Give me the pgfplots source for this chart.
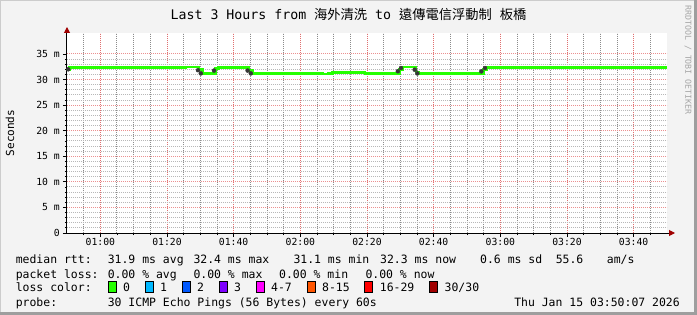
\documentclass[border=0pt]{standalone}
\usepackage{pgfplots}
\usepackage{pgfplotstable}
\pgfplotsset{compat=1.18}
\usepackage{fontspec}
\setmainfont{DejaVu Sans Mono}
\newfontfamily\cjk{Noto Sans CJK TC}
\usetikzlibrary{arrows.meta}
\definecolor{bgc}{HTML}{F3F3F3}
\definecolor{mgrid}{HTML}{EC9090}
\definecolor{mgridx}{HTML}{E07070}
\definecolor{ngrid}{HTML}{B8B8B8}
\definecolor{ngridx}{HTML}{8C8C8C}
\definecolor{med}{HTML}{26FF00}
\definecolor{smoke}{HTML}{383838}
\definecolor{arr}{HTML}{A00000}
\definecolor{lc0}{HTML}{26FF00}
\definecolor{lc1}{HTML}{00B8FF}
\definecolor{lc2}{HTML}{0059FF}
\definecolor{lc3}{HTML}{7E00FF}
\definecolor{lc4}{HTML}{FF00FF}
\definecolor{lc8}{HTML}{FF5500}
\definecolor{lc16}{HTML}{FF0000}
\definecolor{lc30}{HTML}{A10000}

\pgfplotstableread{
t v
50 32.0
50.7 32.4
64 32.3
66 32.4
71.6 32.3
73.6 32.4
84.8 32.3
85.7 32.45
89.6 31.95
90.6 31.15
94.5 32.2
95.5 32.4
104.6 31.8
105.7 31.15
124.6 31.25
126.7 31.1
128.4 31.25
129.6 31.35
139.4 31.15
149.7 32.0
150.7 32.45
154.7 31.45
155.6 31.15
174.9 31.95
175.9 32.35
230 32.35
}\median

\pgfplotstableread{
t v e
50.35 32.0 0.2
89.3 31.825 0.175
90.15 31.2 0.2
94.1 31.75 0.25
104.2 31.75 0.25
105.15 31.2 0.2
149.25 31.625 0.225
150.2 32.25 0.25
154.3 31.925 0.275
155.1 31.2 0.2
174.3 31.6 0.2
175.4 32.25 0.25
}\smoke

\newcommand\lf{\fontsize{11.5}{13}\selectfont}

\begin{document}
\begin{tikzpicture}
\useasboundingbox (-67bp,-82bp) rectangle (630bp,233bp);
\fill[bgc] (-67bp,-82bp) rectangle (630bp,233bp);
\fill[black!20] (-67bp,232bp) rectangle (630bp,233bp);
\fill[black!20] (-67bp,-82bp) rectangle (-66bp,233bp);
\fill[black!38] (627bp,-82bp) rectangle (630bp,233bp);
\fill[black!38] (-67bp,-82bp) rectangle (630bp,-79bp);
\begin{axis}[
  at={(0,0)}, anchor=south west,
  scale only axis, width=600bp, height=200bp,
  xmin=50, xmax=230, ymin=0, ymax=39.1,
  axis lines=left,
  axis line style={black, line width=1bp, -},
  x axis line style={-{Triangle[length=6bp,width=6bp,color=arr]}, shorten >=-8bp},
  y axis line style={-{Triangle[length=6bp,width=6bp,color=arr]}, shorten >=-6bp},
  axis background/.style={fill=white},
  xtick={60,80,...,220},
  xticklabels={01:00,01:20,01:40,02:00,02:20,02:40,03:00,03:20,03:40},
  minor xtick={55,65,70,75,85,90,95,105,110,115,125,130,135,145,150,155,165,170,175,185,190,195,205,210,215,225},
  ytick={0,5,...,35},
  yticklabels={0,5 m,10 m,15 m,20 m,25 m,30 m,35 m},
  minor y tick num=4,
  grid=both,
  major grid style={mgrid, line width=1bp, dash pattern=on 1bp off 1bp},
  minor grid style={ngrid, line width=1bp, dash pattern=on 1bp off 1bp},
  major x grid style={mgridx, line width=1bp, dash pattern=on 1bp off 1bp},
  minor x grid style={ngridx, line width=1bp, dash pattern=on 1bp off 1bp},
  tick align=outside,
  major tick length=4bp, minor tick length=2bp,
  tick style={black, line width=0.8bp},
  ticklabel style={font=\fontsize{9.8}{11}\selectfont},
  xticklabel style={anchor=north, inner sep=0pt, yshift=-1bp},
  yticklabel style={anchor=east, inner sep=0pt, xshift=-3bp},
]
\addplot[smoke, only marks, mark=none,
  error bars/.cd, y dir=both, y explicit, error mark=none,
  error bar style={line width=3bp, color=smoke}]
  table[x=t, y=v, y error=e] {\smoke};
\addplot[const plot, med, line width=2.7bp, mark=none] table[x=t, y=v] {\median};
\end{axis}
\node[anchor=base, inner sep=0pt, font=\fontsize{13.3}{15}\selectfont] at (281.5bp,213bp)
  {Last 3 Hours from {\cjk 海外清洗} to {\cjk 遠傳電信浮動制} {\cjk 板橋}};
\node[rotate=90, inner sep=0pt, font=\fontsize{11.1}{13}\selectfont] at (-57bp,100bp) {Seconds};
\node[rotate=-90, inner sep=0pt, text=black!35, font=\fontsize{8.3}{10}\selectfont] at (621bp,173bp) {RRDTOOL / TOBI OETIKER};
\begin{scope}[every node/.style={anchor=base west, inner sep=0pt, font=\lf}]
\node at (-51.4bp,-30.5bp) {median rtt:};
\node at (40.6bp,-30.5bp) {31.9 ms avg};
\node at (126.3bp,-30.5bp) {32.4 ms max};
\node at (226.3bp,-30.5bp) {31.1 ms min};
\node at (313bp,-30.5bp) {32.3 ms now};
\node at (413bp,-30.5bp) {0.6 ms sd};
\node at (488.6bp,-30.5bp) {55.6};
\node at (539.7bp,-30.5bp) {am/s};
\node at (-51.4bp,-45bp) {packet loss:};
\node at (40.6bp,-45bp) {0.00 \% avg};
\node at (126.3bp,-45bp) {0.00 \% max};
\node at (212bp,-45bp) {0.00 \% min};
\node at (298.3bp,-45bp) {0.00 \% now};
\node at (-51.4bp,-58.5bp) {loss color:};
\node at (56bp,-58.5bp) {0};
\node at (93bp,-58.5bp) {1};
\node at (130bp,-58.5bp) {2};
\node at (167bp,-58.5bp) {3};
\node at (204bp,-58.5bp) {4-7};
\node at (254.9bp,-58.5bp) {8-15};
\node at (312.7bp,-58.5bp) {16-29};
\node at (377.5bp,-58.5bp) {30/30};
\node at (-51.4bp,-73bp) {probe:};
\node at (40.6bp,-73bp) {30 ICMP Echo Pings (56 Bytes) every 60s};
\node[anchor=base east] at (613bp,-73bp) {Thu Jan 15 03:50:07 2026};
\end{scope}
\foreach \xx/\cc in {41/lc0,78/lc1,115/lc2,152/lc3,189/lc4,239.9/lc8,297.7/lc16,362.5/lc30}{
  \filldraw[fill=\cc, draw=black, line width=0.8bp] (\xx bp,-59.8bp) rectangle ++(8bp,11bp);
}
\end{tikzpicture}
\end{document}
